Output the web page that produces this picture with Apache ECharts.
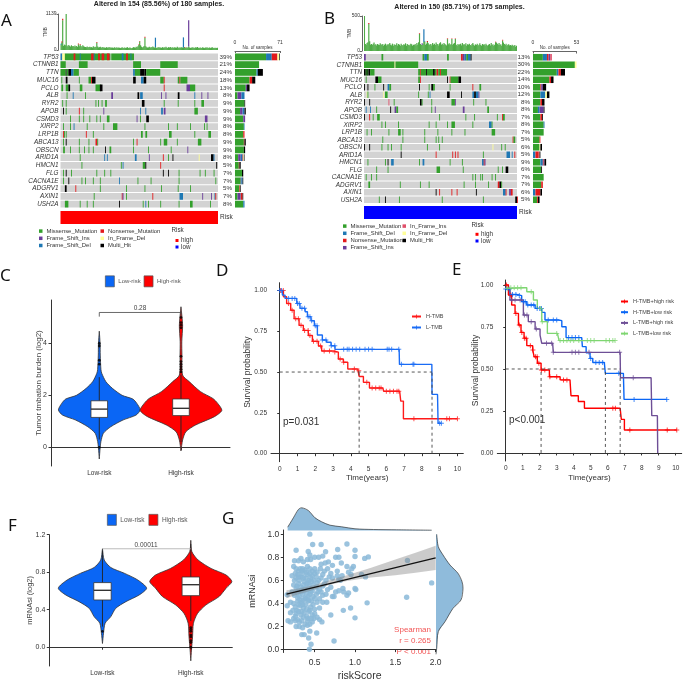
<!DOCTYPE html>
<html>
<head>
<meta charset="utf-8">
<title>TMB and risk score panels</title>
<script src="https://cdn.jsdelivr.net/npm/echarts@6/dist/echarts.min.js"></script>
<style>
  html, body { margin: 0; padding: 0; background: #ffffff; }
  #main { width: 685px; height: 683px; }
</style>
</head>
<body>
<div id="main"></div>
<script>
// ---------- data ----------
const genes = ["TP53","CTNNB1","TTN","MUC16","PCLO","ALB","RYR2","APOB","CSMD3","XIRP2","LRP1B","ABCA13","OBSCN","ARID1A","HMCN1","FLG","CACNA1E","ADGRV1","AXIN1","USH2A"];
const pctA = ["39%","21%","24%","18%","13%","8%","9%","9%","9%","8%","8%","9%","9%","8%","5%","7%","7%","5%","7%","8%"];
const pctB = ["13%","30%","22%","14%","10%","12%","8%","8%","7%","8%","7%","5%","6%","5%","9%","6%","7%","7%","6%","5%"];

// mutation types, index is used in the runs below
const M = 0, I = 1, D = 2, N = 3, FI = 4, FD = 5, H = 6;
const typeNames = ["Missense_Mutation","Frame_Shift_Ins","Frame_Shift_Del","Nonsense_Mutation","In_Frame_Ins","In_Frame_Del","Multi_Hit"];
const typeColors = ["#33a02c","#6a3d9a","#1f78b4","#e31a1c","#e0506a","#ffff99","#000000","#d3d3d3"];

// a plain number is one missense sample, [from, to, type] is a run of samples
const runsA = [
  [[0,1,D],[2,4,FD],[5,56,M],[58,83,M],[15,16,N],[22,22,D],[35,37,N],[38,38,D],[43,44,N],[47,49,N],[53,55,N],[70,71,D],[75,76,N],[80,80,D]],
  [[0,5,M],[21,30,M],[83,91,M],[114,133,M]],
  [[0,5,M],[6,6,H],[7,8,M],[9,11,H],[12,14,D],[15,20,M],[83,84,D],[85,90,M],[91,95,H],[96,97,H],[98,113,M]],
  [1,[6,7,H],21,[32,34,M],[35,35,N],[36,39,H],[83,85,H],[92,94,D],[95,97,H],[114,117,M],[118,118,N],[134,135,M],[136,136,N],[137,144,M]],
  [[1,2,M],[6,8,M],[9,10,H],[22,24,M],[40,45,M],[45,47,H],[118,118,N],[144,147,I],[148,153,M]],
  [7,[14,14,D],28,[58,59,I],[88,89,H],[91,93,D],[115,115,I],[120,120,I],[134,135,H],[153,153,D],[161,161,I],[168,168,I]],
  [2,6,40,43,47,[51,52,M],[93,95,H],118,134,153,[161,163,M]],
  [[3,3,H],6,[21,21,N],26,[49,49,I],[91,91,D],[97,97,D],[115,116,D],[118,119,I],[153,156,M]],
  [11,21,26,33,41,45,[53,55,M],[87,87,I],91,[98,100,H],[165,167,I]],
  [3,11,[15,15,D],30,49,[60,64,M],96,123,133,148,164,167],
  [[3,3,N],4,6,[29,29,N],37,[92,93,M],[97,98,M],[124,126,M],153,[169,171,M]],
  [3,[6,6,H],21,32,[40,41,N],42,83,[87,87,N],114,[118,121,M],133,[157,160,M]],
  [[3,4,M],11,21,27,32,37,[51,51,H],[56,57,M],83,100,126,[145,145,I]],
  [22,[50,50,D],[53,53,D],[85,86,D],[101,101,I],[117,117,N],123,[128,128,H],[158,158,FD],[172,174,H],[175,175,D]],
  [24,69,[71,71,D],[94,96,M],[97,97,H],[114,114,N],[178,178,H]],
  [3,[6,6,H],12,41,50,57,[117,117,H],[123,123,H],135,159,165,175],
  [3,[9,9,H],24,28,37,45,[67,67,D],88,103,135,177],
  [[5,6,H],[17,17,N],45,75,96,115,134,148],
  [38,[70,70,N],[71,71,I],75,[105,105,N],[136,139,D],[162,162,I],[172,172,I],[176,176,D],[177,177,N]],
  [[5,8,M],22,30,37,[67,67,H],94,[97,97,D],100,114,135,[148,150,M],171]
];
const runsB = [
  [[0,1,I],[20,21,M],[67,68,M],[69,71,D],[72,73,M],[95,96,M],[111,112,N],[113,114,I],[115,116,D],[117,118,M],[119,121,D],[122,122,H]],
  [[0,34,M],[35,35,FD],[36,61,M]],
  [[0,1,H],[2,4,M],[3,3,H],[5,6,H],[7,11,M],[62,63,M],[64,64,N],[65,70,M],[71,71,H],[72,78,M],[79,80,H],[81,82,M],[83,84,N],[85,86,M],[87,87,N],[88,94,M]],
  [2,[13,15,H],[16,19,M],[62,63,M],[64,64,N],[95,95,H],[98,98,N],[99,107,M],[108,110,H]],
  [[0,0,H],[4,4,H],12,[22,22,H],[27,28,D],[29,30,M],[63,63,H],74,[77,78,H],[79,80,M],98,[124,124,N],[132,133,M]],
  [[3,3,FD],4,[22,22,FD],[24,26,M],62,73,[75,75,D],[95,97,H],[111,111,H],[124,125,D],[126,127,H],[128,130,D],[131,131,I]],
  [[0,0,H],[6,6,H],[28,28,FI],34,[64,65,H],66,77,[100,103,M],[104,104,I],125,139],
  [[2,2,D],[7,7,D],14,[30,30,H],[35,36,I],[37,38,M],77,[81,81,I],[113,114,I],[141,142,M]],
  [[0,0,H],[6,6,N],10,[15,17,M],86,116,126,152,[158,158,N],[159,160,M]],
  [20,24,39,74,82,95,[100,103,M],124,[143,145,D],146],
  [3,8,28,[39,41,M],44,69,84,100,115,[146,149,M]],
  [21,44,69,82,85,89,[170,170,N],[171,172,M]],
  [[0,0,H],[6,6,H],20,27,31,42,72,86,[147,147,FD],157,161],
  [[42,42,H],[82,82,N],[101,101,N],[104,104,N],[107,107,N],136,[163,166,D],[169,169,D],[172,172,N]],
  [4,24,[27,27,H],[31,33,D],63,[67,68,D],98,112,[135,136,D],[137,137,N],[138,138,I]],
  [14,27,[83,86,M],113,153,158,[162,164,H]],
  [2,8,14,124,127,133,135,146,150],
  [[5,6,M],41,64,74,114,127,142,[153,154,N],[155,156,H],157],
  [[82,82,H],[86,86,N],[100,100,N],[106,106,N],[128,128,H],[159,161,D],[162,162,N],[166,167,I],[168,169,N]],
  [17,[24,24,H],40,89,136,[173,174,H],[175,175,N]]
];
const riskSpanA = [[0, 179]];
const riskSpanB = [[0, 174]];

// samples per gene, by type
const missenseA = [49,38,34,23,17,4,15,8,13,14,13,14,14,5,6,11,9,7,4,13];
const insA      = [0,0,0,0,2,6,0,4,3,0,0,0,0,4,0,0,1,0,4,0];
const delA      = [9,0,2,0,0,5,0,3,0,1,0,0,0,3,0,0,2,0,1,2];
const nonsenseA = [9,0,0,4,0,0,0,0,0,0,2,1,0,1,1,0,0,1,3,0];
const inDelA    = [3,0,0,0,0,0,0,0,0,0,0,0,0,1,0,0,0,0,0,0];
const multiA    = [1,0,8,5,4,0,1,2,0,0,0,2,2,1,2,2,1,1,1,0];

const missenseB = [12,51,29,20,9,9,9,6,9,13,13,8,8,0,9,10,13,10,0,5];
const delB      = [5,0,2,0,0,6,0,2,0,1,0,0,0,3,3,0,0,0,3,0];
const nonsenseB = [2,0,3,2,1,0,2,0,2,0,0,1,0,4,1,0,0,2,6,1];
const insB      = [2,0,0,0,2,0,0,5,0,0,0,0,0,0,1,0,0,0,0,0];
const inInsB    = [2,0,0,0,0,0,0,0,0,0,0,0,0,1,0,0,0,0,0,0];
const inDelB    = [0,2,0,0,0,2,0,0,0,0,0,0,1,0,0,0,0,0,0,0];
const multiB    = [0,0,5,3,4,3,3,1,1,0,0,0,2,1,2,1,0,0,2,2];

// mutations per sample (top bars)
const tmbA = [170,240,940,130,170,150,1139,140,110,160,125,105,150,115,130,100,140,110,125,95,
  180,115,160,130,90,150,115,100,95,85,110,80,95,105,85,90,75,115,90,100,
  95,230,110,80,90,105,75,85,95,70,80,65,90,75,85,70,95,65,80,75,
  60,85,70,75,90,65,80,70,60,75,85,65,70,80,60,75,90,65,70,80,
  65,55,75,90,80,70,105,85,115,160,270,150,105,80,95,130,390,115,90,75,
  80,105,70,95,80,110,85,75,90,65,80,70,95,75,80,65,90,70,85,75,
  100,80,65,90,75,95,70,80,85,65,90,75,70,105,80,65,85,70,90,75,
  80,95,65,75,85,70,110,80,65,75,90,70,80,65,85,75,95,70,60,80,
  75,65,85,70,60,80,75,90,65,70,80,60,75,85,65,70,60,75,65,70];
const tmbTopA = [[1,30,N],[2,45,N],[6,50,N],[20,25,N],[22,20,N],[41,25,N],[89,15,N],[96,30,N],[108,300,D],[140,320,D],[146,830,I],[90,15,N],[142,15,N],[0,25,D]];
const tmbB = [500,100,90,115,125,385,140,90,100,85,105,120,90,95,80,100,90,85,110,95,
  85,100,75,90,105,80,95,85,100,115,90,80,105,75,95,85,90,110,80,100,
  90,75,105,85,80,95,90,110,75,100,85,90,80,105,95,75,90,85,100,80,
  115,90,125,243,100,85,90,95,130,140,90,105,130,110,85,95,100,80,115,90,
  105,85,120,95,100,80,110,125,90,105,85,115,100,90,80,170,95,110,85,100,
  170,90,105,115,170,90,75,100,85,95,105,80,115,90,100,85,110,75,95,90,
  105,85,80,100,115,90,75,95,85,105,80,90,110,85,75,100,90,95,80,105,
  85,75,90,100,80,115,85,95,75,90,125,120,105,90,115,85,95,75,150,120,
  100,85,105,75,90,95,80,85,75,90,80,70,85,60,75];
const tmbTopB = [[0,15,N],[5,15,N],[63,10,N],[68,180,D],[72,12,N],[95,10,N],[100,8,N],[104,10,N],[158,10,N],[150,8,N],[66,20,I]];

// panel C violins: value, half width (in category widths)
const lowCy  = [4.47,4.0,3.55,3.0,2.85,2.53,2.27,2.0,1.86,1.69,1.44,1.24,1.05,0.79,0.54,0.22,-0.04,-0.45];
const lowCw  = [0,0.01,0.012,0.02,0.03,0.08,0.16,0.28,0.41,0.46,0.5,0.45,0.29,0.14,0.05,0.02,0.01,0];
const highCy = [5.41,4.7,4.06,3.55,2.78,2.53,2.14,1.88,1.69,1.42,1.18,0.86,0.6,0.28,-0.14];
const highCw = [0,0.02,0.01,0.012,0.02,0.1,0.24,0.39,0.45,0.5,0.41,0.18,0.06,0.02,0];
const boxC = [[1,0.3,1.15,1.47,1.79,2.7],[2,0.2,1.22,1.5,1.86,2.8]];
const outliersC = [[1,0],[1,3.2],[1,3.35],[1,3.9],[1,4.0],[2,2.9],[2,3.0],[2,3.1],[2,3.2],[2,3.3],[2,3.5],[2,4.6],[2,4.7],[2,4.8],[2,5.0]];

// panel F violins
const lowFy  = [1.05,0.93,0.85,0.79,0.717,0.63,0.557,0.486,0.415,0.327,0.256,0.15,0.04];
const lowFw  = [0,0.02,0.095,0.245,0.4,0.5,0.415,0.265,0.15,0.095,0.03,0.012,0];
const highFy = [1.14,1.02,0.93,0.84,0.77,0.7,0.63,0.54,0.45,0.36,0.256,0.11,-0.03,-0.145];
const highFw = [0,0.012,0.083,0.23,0.4,0.465,0.4,0.32,0.17,0.076,0.03,0.02,0.008,0];
const boxF = [[1,0.22,0.504,0.607,0.689,1.03],[2,0.28,0.55,0.667,0.749,1.1]];
const outliersF = [[1,0.17],[2,0],[2,0.05],[2,0.07],[2,0.11],[2,0.13],[2,0.17],[2,0.19],[2,0.21]];

// survival curves: [years, probability]
const curveDH = [[0,1],[0.21,0.961],[0.39,0.92],[0.62,0.878],[0.81,0.827],[1.09,0.786],[1.33,0.755],[1.61,0.724],[1.84,0.688],[2.18,0.659],[2.36,0.629],[3.02,0.622],[3.3,0.58],[3.58,0.56],[3.83,0.519],[4.39,0.508],[4.47,0.473],[4.71,0.437],[5.05,0.402],[5.8,0.402],[5.85,0.382],[6.75,0.382],[6.81,0.322],[6.96,0.214],[10,0.214]];
const curveDL = [[0,1],[0.15,0.971],[0.3,0.951],[0.77,0.951],[0.96,0.92],[1.14,0.89],[1.43,0.869],[1.56,0.839],[1.76,0.814],[1.95,0.784],[2.12,0.727],[2.4,0.696],[2.64,0.682],[2.89,0.661],[3.11,0.639],[6.72,0.639],[6.74,0.547],[8.56,0.547],[8.57,0.363],[8.88,0.363],[8.91,0.186],[9.08,0.186]];
const censorDH = [0.05,0.2,0.5,0.7,0.9,1.05,1.2,1.4,1.6,1.7,1.9,2.1,2.3,2.5,2.8,3.1,3.4,3.6,4.2,4.45,4.9,5.2,5.4,5.6,5.7,6,6.2,6.4,6.6,6.7,7.55,9.4,9.55,10];
const censorDL = [0,0.1,0.5,0.7,0.85,1,1.1,1.25,1.4,1.6,1.7,1.8,2,2.1,2.4,2.6,2.9,3.1,3.6,3.8,3.9,4.1,4.3,4.5,4.8,5,5.2,6.05,6.15,6.3,6.7,6.85,7.5,7.55,9,9.1];
const mediansD = [4.47,8.57];

const curveEHH = [[0,1],[0.16,0.94],[0.35,0.881],[0.55,0.831],[0.75,0.762],[0.9,0.718],[1.08,0.683],[1.24,0.639],[1.59,0.613],[1.67,0.573],[1.86,0.534],[2.08,0.494],[2.57,0.454],[3.2,0.435],[3.78,0.435],[3.84,0.341],[4.27,0.306],[4.63,0.266],[6.73,0.266],[6.8,0.2],[6.98,0.137],[10.06,0.137]];
const curveEHL = [[0,0.976],[0.25,0.944],[0.65,0.937],[0.94,0.901],[1.24,0.881],[1.73,0.861],[2.12,0.837],[2.31,0.792],[3.1,0.788],[3.3,0.752],[3.55,0.687],[4.47,0.687],[4.51,0.633],[4.73,0.597],[4.96,0.563],[5.12,0.539],[5.8,0.539],[5.86,0.474],[6.92,0.474],[6.96,0.319],[9.47,0.319]];
const curveELH = [[0,0.98],[0.25,0.911],[0.9,0.911],[1.04,0.821],[1.33,0.782],[1.73,0.738],[2.02,0.702],[2.12,0.653],[2.76,0.653],[2.8,0.599],[6.73,0.599],[6.75,0.448],[8.55,0.448],[8.59,0.222],[8.92,0.222],[8.94,0]];
const curveELL = [[0,0.98],[0.25,0.984],[1.04,0.984],[1.24,0.96],[1.63,0.911],[1.86,0.861],[2.12,0.782],[2.45,0.712],[3.04,0.712],[3.14,0.669],[6.43,0.669]];
const censorEHH = [0.05,0.3,0.6,0.8,0.95,1.1,1.2,1.45,1.6,1.75,1.85,1.95,2.1,2.3,2.6,3.0,3.4,3.6,6.3,6.45,7.3,9.5,10.06];
const censorEHL = [0,0.2,0.4,0.6,0.8,1.05,1.15,1.3,1.5,1.65,1.85,2,2.1,2.5,2.8,3,3.7,3.9,4.1,4.3,5,5.3,5.5,5.7,6.65,7.55,9.47];
const censorELH = [0.35,0.55,0.85,1.1,1.25,1.5,1.8,2.4,2.7,2.8,3.9,4.1,4.3,4.9,6.7,7.5];
const censorELL = [0.1,0.3,0.5,0.7,0.9,1.5,2.05,2.15,3,3.2,3.4,3.6,3.8,4,4.3,4.8,5,5.2,5.9,6.1,6.3,6.43];
const mediansE = [2.08,5.86,6.73];

// panel G
const scatterG = [[0.44,1.0],[0.475,0.91],[0.58,0.91],[0.9,0.915],[0.27,0.86],[0.42,0.85],[0.785,0.867],[1.0,0.86],[0.635,0.847],[0.44,0.82],[1.0,0.806],[1.165,0.803],[1.12,0.79],[1.65,0.772],[1.95,0.578],[1.64,0.453],[1.15,0.405],[1.0,0.275],[0.945,0.36],[0.855,0.34],[0.7,0.3],[0.74,0.075],[0.455,0.047],[0.435,0.003],[0.425,0.1],[0.44,0.16],[0.525,0.144],[0.34,0.13],[0.37,0.13],
  [0.25,0.77],[0.3,0.77],[0.33,0.79],[0.36,0.76],[0.41,0.78],[0.45,0.78],[0.5,0.8],[0.55,0.8],[0.6,0.81],[0.58,0.74],[0.67,0.76],[0.76,0.8],[0.8,0.8],[0.63,0.75],[0.72,0.73],[0.83,0.75],[0.9,0.72],
  [0.24,0.72],[0.27,0.7],[0.3,0.68],[0.32,0.7],[0.35,0.7],[0.38,0.69],[0.41,0.72],[0.44,0.7],[0.47,0.68],[0.5,0.7],[0.53,0.67],[0.57,0.7],[0.62,0.68],[0.66,0.7],[0.7,0.66],[0.78,0.68],[0.96,0.7],[0.92,0.67],[0.98,0.72],
  [0.22,0.64],[0.25,0.6],[0.27,0.62],[0.29,0.65],[0.31,0.6],[0.33,0.63],[0.35,0.66],[0.37,0.59],[0.39,0.62],[0.41,0.65],[0.43,0.6],[0.45,0.62],[0.47,0.64],[0.49,0.6],[0.52,0.63],[0.55,0.6],[0.58,0.62],[0.6,0.65],[0.64,0.6],[0.68,0.63],[0.72,0.62],[0.78,0.64],[0.82,0.6],[0.84,0.64],[0.8,0.61],[0.95,0.65],[1.08,0.65],[1.13,0.63],
  [0.24,0.56],[0.28,0.55],[0.3,0.57],[0.33,0.54],[0.36,0.56],[0.38,0.53],[0.4,0.57],[0.43,0.55],[0.46,0.53],[0.48,0.56],[0.52,0.54],[0.56,0.52],[0.6,0.55],[0.62,0.57],[0.66,0.52],[0.7,0.54],[0.76,0.5],[0.85,0.53],[0.8,0.51],[1.0,0.53],[1.01,0.52],
  [0.16,0.475],[0.22,0.5],[0.25,0.47],[0.28,0.49],[0.31,0.46],[0.33,0.5],[0.35,0.48],[0.38,0.45],[0.4,0.49],[0.42,0.46],[0.45,0.5],[0.48,0.46],[0.52,0.48],[0.56,0.44],[0.6,0.47],[0.64,0.48],[0.72,0.46],[0.74,0.46],[0.9,0.47],[0.92,0.49],[0.86,0.5],
  [0.16,0.38],[0.2,0.41],[0.24,0.4],[0.26,0.37],[0.29,0.42],[0.32,0.38],[0.34,0.41],[0.36,0.36],[0.39,0.39],[0.42,0.42],[0.45,0.37],[0.48,0.39],[0.53,0.41],[0.56,0.36],[0.6,0.41],[0.65,0.41],[0.5,0.35],
  [0.2,0.32],[0.23,0.34],[0.27,0.31],[0.3,0.33],[0.33,0.3],[0.37,0.32],[0.4,0.29],[0.43,0.33],[0.47,0.3],[0.5,0.31],[0.53,0.28],
  [0.17,0.25],[0.2,0.24],[0.24,0.27],[0.26,0.25],[0.29,0.26],[0.31,0.24],[0.34,0.25],[0.38,0.22],[0.41,0.25],[0.44,0.22],[0.47,0.24],[0.49,0.27],[0.56,0.26],[0.59,0.24],[0.27,0.2],[0.31,0.2],[0.35,0.19],[0.41,0.21],
  [0.26,0.66],[0.3,0.63],[0.34,0.68],[0.36,0.62],[0.4,0.67],[0.42,0.58],[0.44,0.66],[0.46,0.59],[0.5,0.66],[0.53,0.58],[0.27,0.53],[0.3,0.51],[0.34,0.52],[0.37,0.51],[0.41,0.52],[0.44,0.48],[0.47,0.51],[0.5,0.44],[0.54,0.5],[0.58,0.5],[0.29,0.45],[0.32,0.43],[0.36,0.43],[0.39,0.44],[0.43,0.43],[0.46,0.42],[0.3,0.39],[0.35,0.39],[0.4,0.35],[0.44,0.34],[0.28,0.34],[0.34,0.33],[0.26,0.29],[0.36,0.28],[0.42,0.27],[0.46,0.27]];
const fitG = [[0.15,0.48],[2.0,0.795]];
const bandX    = [0.15,0.3,0.5,0.7,0.9,1.2,1.5,1.75,2.0];
const bandLow  = [0.445,0.48,0.52,0.565,0.595,0.625,0.645,0.665,0.69];
const bandHigh = [0.515,0.53,0.56,0.605,0.645,0.71,0.78,0.84,0.9];
const topDensX = [0.165,0.236,0.298,0.339,0.421,0.504,0.587,0.69,0.835,1.0,1.227,1.517,1.95];
const topDensV = [3.3,12.7,21,22.7,20,12.7,8.7,5.3,3.7,1.7,1,0.7,0.3];
const rightDensY = [1.0,0.897,0.828,0.744,0.675,0.606,0.55,0.453,0.383,0.272,0.189,0.05,0];
const rightDensV = [0.7,2.3,7,14,22,26,27,25,17,9,2.3,0.7,0];

// ---------- helpers ----------
const FONT = '"Liberation Sans", Arial, sans-serif';
const PLUS = 'path://M4 0h2v4h4v2H6v4H4V6H0V4h4z';
const grid = [], xAxis = [], yAxis = [], series = [], graphic = [], legend = [];

function addGrid(left, top, width, height, x, y) {
  const i = grid.length;
  grid.push({ left, top, width, height, containLabel: false });
  xAxis.push(Object.assign({ gridIndex: i, nameMoveOverlap: false, splitLine: { show: false } }, x));
  yAxis.push(Object.assign({ gridIndex: i, nameMoveOverlap: false, splitLine: { show: false } }, y));
  return i;
}
function text(x, y, str, o) {
  graphic.push({ type: "text", x, y, silent: true, rotation: (o && o.rotation) || 0,
    style: { text: str, fontSize: (o && o.size) || 7, fontFamily: (o && o.family) || FONT, fontWeight: (o && o.weight) || "normal",
      fill: (o && o.fill) || "#222", align: (o && o.align) || "left", verticalAlign: "middle" } });
}
function box(x, y, w, h, fill) {
  graphic.push({ type: "rect", silent: true, shape: { x, y, width: w, height: h }, style: { fill } });
}
function axisStyle(color) {
  return { lineStyle: { color: color || "#333", width: 1 } };
}
function valueAxis(min, max, ticks, fmt, fontSize, margin) {
  return {
    type: "value", min, max,
    axisLine: { show: true, ...axisStyle() },
    axisTick: { show: true, length: 2.5, customValues: ticks, ...axisStyle() },
    axisLabel: { customValues: ticks, formatter: fmt, fontSize: fontSize || 7, color: "#333", fontFamily: FONT, margin: margin || 4 }
  };
}

// oncoplot rows drawn as rects from sample runs
function expandRuns(runs, samples) {
  const out = [];
  runs.forEach((list, row) => {
    out.push([0, samples - 1, row, 7]);
    list.forEach(r => {
      if (typeof r === "number") out.push([r, r, row, M]);
      else out.push([r[0], r[1], row, r[2]]);
    });
  });
  return out;
}
function renderRun(params, api) {
  const r = api.value(2);
  const a = api.coord([api.value(0), r]);
  const b = api.coord([api.value(1) + 1, r]);
  const h = api.size([0, 1])[1];
  return { type: "rect", shape: { x: a[0], y: a[1] - h / 2 + 0.5, width: b[0] - a[0], height: h - 1 }, style: { fill: typeColors[api.value(3)] } };
}

function oncoplot(cfg) {
  const cats = Array.from({ length: cfg.samples }, (_, i) => i);
  // top bars
  const t = addGrid(cfg.left, cfg.tmbTop, cfg.width, cfg.tmbH,
    { type: "category", data: cats, show: false },
    { type: "value", min: 0, max: cfg.tmbMax, offset: 2, name: "TMB", nameLocation: "middle", nameGap: 10, nameRotate: 90,
      nameTextStyle: { fontSize: 4.5, color: "#333", fontFamily: FONT },
      axisLine: { show: true, ...axisStyle("#666") }, axisTick: { show: true, length: 2, customValues: [0, cfg.tmbMax], ...axisStyle("#666") },
      axisLabel: { customValues: [0, cfg.tmbMax], formatter: v => String(v), fontSize: 5, color: "#333", fontFamily: FONT, margin: 2, show: true } });
  series.push({ type: "bar", xAxisIndex: t, yAxisIndex: t, stack: "tmb" + cfg.id, data: cfg.tmb, barWidth: 1.2, itemStyle: { color: "#4fab47" }, silent: true });
  const tops = cats.map(() => 0);
  cfg.tmbTop_.forEach(p => { tops[p[0]] = { value: p[1], itemStyle: { color: typeColors[p[2]] } }; });
  series.push({ type: "bar", xAxisIndex: t, yAxisIndex: t, stack: "tmb" + cfg.id, data: tops, barWidth: 1.2, silent: true });

  // mutation matrix
  const h = addGrid(cfg.left, cfg.heatTop, cfg.width, cfg.heatH,
    { type: "value", min: 0, max: cfg.samples, show: false },
    { type: "category", data: genes, inverse: true, axisLine: { show: false }, axisTick: { show: false },
      axisLabel: { fontSize: 6.4, fontStyle: "italic", color: "#333", fontFamily: FONT, margin: 2, interval: 0 } });
  series.push({ type: "custom", xAxisIndex: h, yAxisIndex: h, renderItem: renderRun, encode: { x: [0, 1], y: 2 }, data: expandRuns(cfg.runs, cfg.samples), silent: true });

  // side bars
  const s = addGrid(cfg.barLeft, cfg.heatTop, cfg.barW, cfg.heatH,
    { type: "value", position: "top", min: 0, max: cfg.barMax, offset: 2, name: "No. of samples", nameLocation: "middle", nameGap: 1,
      nameTextStyle: { fontSize: 4.5, color: "#333", fontFamily: FONT },
      axisLine: { show: true, ...axisStyle("#666") }, axisTick: { show: true, inside: true, length: 2, customValues: [0, cfg.barMax], ...axisStyle("#666") },
      axisLabel: { customValues: [0, cfg.barMax], fontSize: 5, color: "#333", fontFamily: FONT, margin: 6 } },
    { type: "category", data: genes, inverse: true, axisLine: { show: false }, axisTick: { show: false },
      axisLabel: { fontSize: 6.2, color: "#333", fontFamily: FONT, margin: 3, interval: 0, formatter: (v, i) => cfg.pct[i] } });
  cfg.stack.forEach(st => {
    series.push({ name: typeNames[st[0]], type: "bar", xAxisIndex: s, yAxisIndex: s, stack: "n" + cfg.id, data: st[1], barWidth: "88%",
      itemStyle: { color: typeColors[st[0]] }, silent: true });
  });

  // risk strip
  const r = addGrid(cfg.left, cfg.riskTop, cfg.width, 13,
    { type: "value", min: 0, max: cfg.samples, show: false },
    { type: "category", data: ["Risk"], position: "right", axisLine: { show: false }, axisTick: { show: false },
      axisLabel: { fontSize: 6.5, color: "#333", fontFamily: FONT, margin: 2 } });
  series.push({ type: "custom", xAxisIndex: r, yAxisIndex: r, encode: { x: [0, 1], y: 2 }, silent: true,
    renderItem: (params, api) => {
      const a = api.coord([api.value(0), 0]), b = api.coord([api.value(1) + 1, 0]), hh = api.size([0, 1])[1];
      return { type: "rect", shape: { x: a[0], y: a[1] - hh / 2, width: b[0] - a[0], height: hh }, style: { fill: cfg.riskColor } };
    },
    data: cfg.risk.map(p => [p[0], p[1], 0]) });
}

// violin + box drawn through the axis scales
function violin(g, center, ys, ws, color) {
  series.push({ type: "custom", xAxisIndex: g, yAxisIndex: g, data: [0], silent: true, clip: false,
    renderItem: (params, api) => {
      const pts = [];
      ys.forEach((y, i) => pts.push(api.coord([center + ws[i], y])));
      for (let i = ys.length - 1; i >= 0; i--) pts.push(api.coord([center - ws[i], ys[i]]));
      return { type: "polygon", shape: { points: pts, smooth: 0.25 }, style: { fill: color, stroke: "#333", lineWidth: 0.8 } };
    } });
}
function boxes(g, rows, halfWidth) {
  series.push({ type: "custom", xAxisIndex: g, yAxisIndex: g, data: rows, silent: true, encode: { x: 0, y: [1, 2, 3, 4, 5] },
    renderItem: (params, api) => {
      const c = api.value(0);
      const lo = api.coord([c, api.value(1)]), q1 = api.coord([c, api.value(2)]), med = api.coord([c, api.value(3)]),
        q3 = api.coord([c, api.value(4)]), hi = api.coord([c, api.value(5)]);
      const x = lo[0] - halfWidth;
      return { type: "group", children: [
        { type: "line", shape: { x1: lo[0], y1: lo[1], x2: hi[0], y2: hi[1] }, style: { stroke: "#222", lineWidth: 0.9 } },
        { type: "rect", shape: { x, y: q3[1], width: halfWidth * 2, height: q1[1] - q3[1] }, style: { fill: "#fff", stroke: "#333", lineWidth: 0.8 } },
        { type: "line", shape: { x1: x, y1: med[1], x2: x + halfWidth * 2, y2: med[1] }, style: { stroke: "#333", lineWidth: 1.4 } }
      ] };
    } });
}
function violinPanel(cfg) {
  const g = addGrid(cfg.left, cfg.top, cfg.width, cfg.height,
    valueAxis(cfg.xMin, cfg.xMax, [1, 2], v => ["Low-risk", "High-risk"][v - 1], 6.5),
    Object.assign(valueAxis(cfg.yMin, cfg.yMax, cfg.yTicks, cfg.yFmt, 7), { name: cfg.yName, nameLocation: "middle", nameGap: cfg.nameGap, nameTextStyle: { fontSize: cfg.nameSize, color: "#444", fontFamily: FONT } }));
  series.push({ name: "Low-risk", type: "custom", xAxisIndex: g, yAxisIndex: g, data: [], itemStyle: { color: "#0a66f5" }, renderItem: () => null });
  series.push({ name: "High-risk", type: "custom", xAxisIndex: g, yAxisIndex: g, data: [], itemStyle: { color: "#ff0000" }, renderItem: () => null });
  violin(g, 1, cfg.low[0], cfg.low[1], "#0a66f5");
  violin(g, 2, cfg.high[0], cfg.high[1], "#ff0000");
  boxes(g, cfg.box, cfg.boxHalf);
  series.push({ type: "scatter", xAxisIndex: g, yAxisIndex: g, data: cfg.outliers, symbolSize: 2.8, itemStyle: { color: "#000" }, silent: true });
  series.push({ type: "line", xAxisIndex: g, yAxisIndex: g, data: cfg.bracket, symbol: "none", lineStyle: { color: cfg.bracketColor, width: 0.8 }, silent: true, z: 5 });
}

function stepAt(curve, t) {
  let s = curve[0][1];
  curve.forEach(p => { if (p[0] <= t) s = p[1]; });
  return s;
}
function survival(g, name, color, curve, censors) {
  series.push({ name, type: "line", xAxisIndex: g, yAxisIndex: g, step: "end", data: curve, symbol: PLUS, showSymbol: false, symbolSize: 5,
    itemStyle: { color }, lineStyle: { color, width: 1.4 }, silent: true, z: 3 });
  series.push({ type: "scatter", xAxisIndex: g, yAxisIndex: g, data: censors.map(t => [t, stepAt(curve, t)]), symbol: PLUS, symbolSize: 5,
    itemStyle: { color, opacity: 0.75 }, silent: true, z: 3 });
}
function medianGuides(g, medians) {
  const dash = { color: "#444", width: 0.9, type: [3, 3] };
  series.push({ type: "line", xAxisIndex: g, yAxisIndex: g, data: [[0, 0.5], [Math.max(...medians), 0.5]], symbol: "none", lineStyle: dash, silent: true, z: 4 });
  medians.forEach(m => series.push({ type: "line", xAxisIndex: g, yAxisIndex: g, data: [[m, 0], [m, 0.5]], symbol: "none", lineStyle: dash, silent: true, z: 4 }));
}
const fmt2 = v => v.toFixed(2);
const years = [0,1,2,3,4,5,6,7,8,9,10];
const survTicks = [0,0.25,0.5,0.75,1];

function survivalPanel(left, top, width, height, xMin, xMax, yMin, yMax, nameGap, xGap) {
  return addGrid(left, top, width, height,
    Object.assign(valueAxis(xMin, xMax, years, v => String(v), 6.5), { name: "Time(years)", nameLocation: "middle", nameGap: xGap, nameTextStyle: { fontSize: 8, color: "#333", fontFamily: FONT } }),
    Object.assign(valueAxis(yMin, yMax, survTicks, fmt2, 6.5), { name: "Survival probability", nameLocation: "middle", nameGap, nameTextStyle: { fontSize: 8.5, color: "#333", fontFamily: FONT } }));
}

// ---------- panels ----------
oncoplot({ id: "A", left: 60.5, width: 157.5, samples: 180, tmbTop: 14, tmbH: 36, tmbMax: 1139, tmb: tmbA, tmbTop_: tmbTopA,
  heatTop: 53, heatH: 155, runs: runsA, barLeft: 235, barW: 45, barMax: 71, pct: pctA, riskTop: 211, risk: riskSpanA, riskColor: "#ff0000",
  stack: [[M, missenseA], [I, insA], [D, delA], [N, nonsenseA], [FD, inDelA], [H, multiA]] });
oncoplot({ id: "B", left: 364, width: 153, samples: 175, tmbTop: 16, tmbH: 35, tmbMax: 500, tmb: tmbB, tmbTop_: tmbTopB,
  heatTop: 53.5, heatH: 150, runs: runsB, barLeft: 533, barW: 43.5, barMax: 53, pct: pctB, riskTop: 206, risk: riskSpanB, riskColor: "#0000ff",
  stack: [[M, missenseB], [D, delB], [N, nonsenseB], [I, insB], [FI, inInsB], [FD, inDelB], [H, multiB]] });

violinPanel({ left: 51, top: 300, width: 179, height: 166, xMin: 0.409, xMax: 2.6, yMin: -0.72, yMax: 5.67, yTicks: [0, 2, 4], yFmt: v => String(v),
  yName: "Tumor tmbation burden (log2)", nameGap: 8, nameSize: 8, low: [lowCy, lowCw], high: [highCy, highCw], box: boxC, boxHalf: 8.3, outliers: outliersC,
  bracket: [[1, 5.03], [1, 5.19], [2, 5.19], [2, 5.03]], bracketColor: "#444" });
violinPanel({ left: 49.3, top: 534.7, width: 183, height: 131.3, xMin: 0.398, xMax: 2.47, yMin: -0.2, yMax: 1.2, yTicks: [0, 0.4, 0.8, 1.2], yFmt: v => v.toFixed(1),
  yName: "mRNAsi (log2)", nameGap: 15.5, nameSize: 7.5, low: [lowFy, lowFw], high: [highFy, highFw], box: boxF, boxHalf: 8.7, outliers: outliersF,
  bracket: [[1, 1.05], [2, 1.05]], bracketColor: "#aaa" });

const gD = survivalPanel(271, 282.7, 192.3, 179, -0.49, 10.33, -0.049, 1.047, 18.7, 12);
survival(gD, "H-TMB", "#ff1a1a", curveDH, censorDH);
survival(gD, "L-TMB", "#1a6cf5", curveDL, censorDL);
medianGuides(gD, mediansD);

const gE = survivalPanel(497.3, 280, 184.4, 181, -0.494, 10.35, -0.048, 1.03, 17.3, 13);
survival(gE, "H-TMB+high risk", "#ff0000", curveEHH, censorEHH);
survival(gE, "H-TMB+low risk", "#0a66f5", curveEHL, censorEHL);
survival(gE, "L-TMB+high risk", "#6e4f96", curveELH, censorELH);
survival(gE, "L-TMB+low risk", "#7fd672", curveELL, censorELL);
medianGuides(gE, mediansE);

// panel G: scatter with marginal densities
const gG = addGrid(283.3, 530, 152.7, 127.3,
  Object.assign(valueAxis(0.111, 2.004, [0.5, 1, 1.5, 2], v => v.toFixed(1), 8.5, 6), { name: "riskScore", nameLocation: "middle", nameGap: 18.5, nameTextStyle: { fontSize: 10.5, color: "#333", fontFamily: FONT } }),
  Object.assign(valueAxis(-0.025, 1.036, [0, 0.2, 0.4, 0.6, 0.8, 1], v => v.toFixed(1), 8.5), { name: "mRNAsi", nameLocation: "middle", nameGap: 26.5, nameTextStyle: { fontSize: 9, color: "#333", fontFamily: FONT } }));
series.push({ type: "scatter", xAxisIndex: gG, yAxisIndex: gG, data: scatterG, symbolSize: 5.4, itemStyle: { color: "#8ab8d8", opacity: 0.85 }, silent: true });
series.push({ type: "custom", xAxisIndex: gG, yAxisIndex: gG, data: [0], silent: true, z: 3,
  renderItem: (params, api) => {
    const pts = bandX.map((x, i) => api.coord([x, bandHigh[i]]));
    for (let i = bandX.length - 1; i >= 0; i--) pts.push(api.coord([bandX[i], bandLow[i]]));
    return { type: "polygon", shape: { points: pts }, style: { fill: "rgba(130,130,130,0.42)" } };
  } });
series.push({ type: "line", xAxisIndex: gG, yAxisIndex: gG, data: fitG, symbol: "none", lineStyle: { color: "#111", width: 1.3 }, silent: true, z: 4 });

const gTop = addGrid(283.3, 507, 152.7, 23.5, { type: "value", min: 0.111, max: 2.004, show: false }, { type: "value", min: 0, max: 23.5, show: false });
series.push({ type: "custom", xAxisIndex: gTop, yAxisIndex: gTop, data: [0], silent: true,
  renderItem: (params, api) => {
    const line = topDensX.map((x, i) => api.coord([x, topDensV[i]]));
    const fill = [api.coord([topDensX[0], 0])].concat(line, [api.coord([topDensX[topDensX.length - 1], 0])]);
    return { type: "group", children: [
      { type: "polygon", shape: { points: fill }, style: { fill: "#8fbbdb" } },
      { type: "polyline", shape: { points: line, smooth: 0.3 }, style: { stroke: "#333", fill: null, lineWidth: 0.7 } }
    ] };
  } });

const gRight = addGrid(436, 530, 28, 127.3, { type: "value", min: 0, max: 28, show: false }, { type: "value", min: -0.025, max: 1.036, show: false });
series.push({ type: "custom", xAxisIndex: gRight, yAxisIndex: gRight, data: [0], silent: true,
  renderItem: (params, api) => {
    const line = rightDensY.map((y, i) => api.coord([rightDensV[i], y]));
    const fill = [api.coord([0, rightDensY[0]])].concat(line, [api.coord([0, rightDensY[rightDensY.length - 1]])]);
    return { type: "group", children: [
      { type: "polygon", shape: { points: fill }, style: { fill: "#8fbbdb" } },
      { type: "polyline", shape: { points: line, smooth: 0.3 }, style: { stroke: "#333", fill: null, lineWidth: 0.7 } }
    ] };
  } });

// ---------- legends ----------
function typeLegend(names, left, top) {
  legend.push({ data: names, left, top, orient: "vertical", icon: "rect", itemWidth: 3.5, itemHeight: 3.5, itemGap: 0, padding: 0, selectedMode: false,
    textStyle: { fontSize: 5.9, color: "#333", fontFamily: FONT, lineHeight: 7.2, padding: [0, 0, 0, -1] } });
}
typeLegend(["Missense_Mutation", "Frame_Shift_Ins", "Frame_Shift_Del"], 39, 227.5);
typeLegend(["Nonsense_Mutation", "In_Frame_Del", "Multi_Hit"], 100.5, 227.5);
typeLegend(["Missense_Mutation", "Frame_Shift_Del", "Nonsense_Mutation", "Frame_Shift_Ins"], 343, 222.5);
typeLegend(["In_Frame_Ins", "In_Frame_Del", "Multi_Hit"], 402.5, 222.5);

function riskLegend(x, yTitle, yHigh, yLow) {
  text(x, yTitle, "Risk", { size: 6.3, fill: "#333" });
  box(x + 4, yHigh - 1.5, 3, 3, "#ff0000");
  text(x + 9.5, yHigh, "high", { size: 6.3, fill: "#333" });
  box(x + 4, yLow - 1.5, 3, 3, "#0000ff");
  text(x + 9.5, yLow, "low", { size: 6.3, fill: "#333" });
}
riskLegend(171.5, 230.5, 240.5, 247);
riskLegend(471.5, 225, 234.3, 241);

function riskKeys(left, top, size, gap) {
  legend.push({ data: ["Low-risk", "High-risk"], left, top, icon: "rect", itemWidth: 9, itemHeight: 11, itemGap: gap, padding: 0, selectedMode: false,
    itemStyle: { borderColor: "#555", borderWidth: 0.7 },
    textStyle: { fontSize: size, color: "#555", fontFamily: FONT, padding: [0, 0, 0, -1] } });
}
riskKeys(105, 275.5, 6, 3);
riskKeys(107, 514, 6.5, 4);

legend.push({ data: ["H-TMB", "L-TMB"], left: 411, top: 313.5, orient: "vertical", itemWidth: 9, itemHeight: 5, itemGap: 5, padding: 0, selectedMode: false,
  textStyle: { fontSize: 5.5, color: "#444", fontFamily: FONT } });
legend.push({ data: ["H-TMB+high risk", "H-TMB+low risk", "L-TMB+high risk", "L-TMB+low risk"], left: 620, top: 298.5, orient: "vertical", itemWidth: 7, itemHeight: 5, itemGap: 4.7, padding: 0, selectedMode: false,
  textStyle: { fontSize: 5.5, color: "#444", fontFamily: FONT, lineHeight: 6 } });

// ---------- loose text ----------
text(159, 4, "Altered in 154 (85.56%) of 180 samples.", { size: 7, weight: "bold", align: "center" });
text(459.5, 7, "Altered in 150 (85.71%) of 175 samples.", { size: 7, weight: "bold", align: "center" });
[["A", 1, 21], ["B", 324, 19], ["C", 0, 276], ["D", 216, 271], ["E", 452, 270], ["F", 8, 526], ["G", 222, 519]].forEach(p => {
  text(p[1], p[2], p[0], { size: 17, family: '"Noto Sans", sans-serif', fill: "#111" });
});
text(140, 308, "0.28", { size: 6.5, fill: "#444", align: "center" });
text(146, 545.5, "0.00011", { size: 6.5, fill: "#444", align: "center" });
text(283, 422, "p=0.031", { size: 10, fill: "#333" });
text(509, 420, "p<0.001", { size: 10, fill: "#333" });
text(431, 629.5, "Spearman", { size: 8, fill: "#f25555", align: "right" });
text(431, 640.5, "r = 0.265", { size: 8, fill: "#f25555", align: "right" });
text(431, 651.5, "P < 0.001", { size: 8, fill: "#f25555", align: "right" });

const chart = echarts.init(document.getElementById("main"), null, { renderer: "canvas" });
chart.setOption({ animation: false, backgroundColor: "#ffffff", tooltip: { show: false }, grid, xAxis, yAxis, legend, series, graphic: { elements: graphic } });
</script>
</body>
</html>
